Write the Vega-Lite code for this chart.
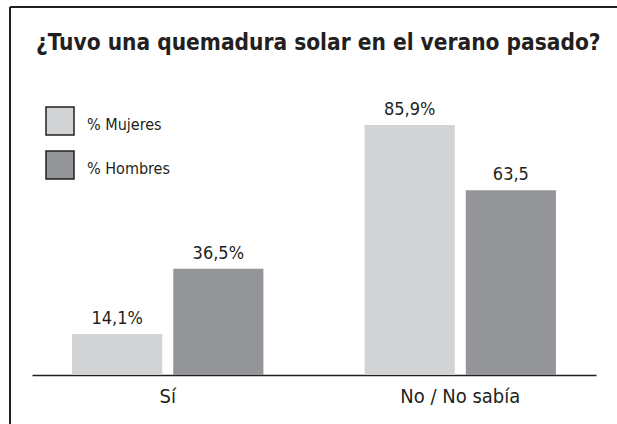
{
  "$schema": "https://vega.github.io/schema/vega-lite/v6.json",
  "width": 607,
  "height": 417,
  "autosize": {"type": "none"},
  "padding": {"left": 10, "top": 7, "right": 0, "bottom": 0},
  "background": "white",
  "config": {
    "view": {"stroke": "#231f20", "strokeWidth": 2, "strokeDash": [607, 1024, 417, 0]},
    "font": "'DejaVu Sans Condensed', Roboto, sans-serif"
  },
  "title": {
    "text": "¿Tuvo una quemadura solar en el verano pasado?",
    "font": "'DejaVu Sans Condensed', Roboto, sans-serif",
    "fontWeight": "bold",
    "fontSize": 22.5,
    "color": "#231f20",
    "anchor": "start",
    "frame": "group",
    "orient": "top",
    "dx": 26,
    "offset": -47
  },
  "data": {
    "values": [
      {"cat": "Sí", "grupo": "% Mujeres", "valor": 14.1, "label": "14,1%"},
      {"cat": "Sí", "grupo": "% Hombres", "valor": 36.5, "label": "36,5%"},
      {"cat": "No / No sabía", "grupo": "% Mujeres", "valor": 85.9, "label": "85,9%"},
      {"cat": "No / No sabía", "grupo": "% Hombres", "valor": 63.5, "label": "63,5"}
    ]
  },
  "encoding": {
    "x": {
      "field": "cat",
      "type": "nominal",
      "sort": ["Sí", "No / No sabía"],
      "scale": {"range": [22, 586], "paddingInner": 0.346, "paddingOuter": 0.137},
      "axis": {
        "title": null,
        "orient": "bottom",
        "offset": -49,
        "domainColor": "#231f20",
        "domainWidth": 1.5,
        "ticks": false,
        "tickSize": 0,
        "labelAngle": 0,
        "labelFont": "'DejaVu Sans Condensed', Roboto, sans-serif",
        "labelFontSize": 20,
        "labelColor": "#231f20",
        "labelBaseline": "alphabetic",
        "labelPadding": 27
      }
    },
    "xOffset": {
      "field": "grupo",
      "type": "nominal",
      "sort": ["% Mujeres", "% Hombres"],
      "scale": {"paddingInner": 0.109, "paddingOuter": 0}
    },
    "y": {
      "field": "valor",
      "type": "quantitative",
      "scale": {"domain": [0, 100], "range": [368, 77]},
      "axis": null
    }
  },
  "layer": [
    {
      "mark": {"type": "bar"},
      "encoding": {
        "fill": {
          "field": "grupo",
          "type": "nominal",
          "sort": ["% Mujeres", "% Hombres"],
          "scale": {"domain": ["% Mujeres", "% Hombres"], "range": ["#d1d3d4", "#939598"]},
          "legend": {
            "title": null,
            "orient": "none",
            "legendX": 35,
            "legendY": 99,
            "symbolType": "square",
            "symbolSize": 784,
            "symbolStrokeColor": "#231f20",
            "symbolStrokeWidth": 1.5,
            "labelFont": "'DejaVu Sans Condensed', Roboto, sans-serif",
            "labelFontSize": 16,
            "labelColor": "#231f20",
            "labelOffset": 12,
            "rowPadding": 10,
            "labelLimit": 300,
            "encode": {"labels": {"update": {"dy": {"value": 4}}}}
          }
        }
      }
    },
    {
      "mark": {"type": "text", "baseline": "alphabetic", "dy": -10, "font": "'DejaVu Sans Condensed', Roboto, sans-serif", "fontSize": 18, "color": "#231f20"},
      "encoding": {
        "text": {"field": "label", "type": "nominal"}
      }
    }
  ]
}
